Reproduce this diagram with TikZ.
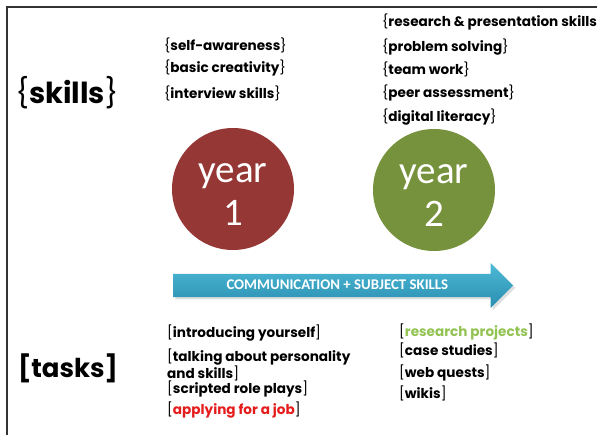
\documentclass[tikz,border=0pt]{standalone}
\usepackage{fontspec}
\newfontfamily\gothic{Poppins}
\newfontfamily\calibri{Carlito}
\usetikzlibrary{shapes.arrows,shadows}

\definecolor{yearred}{HTML}{953735}
\definecolor{yeargreen}{HTML}{76923C}
\definecolor{arrowtop}{HTML}{4DBAD6}
\definecolor{arrowbot}{HTML}{2A8DB0}
\definecolor{taskgreen}{HTML}{92C353}
\definecolor{taskred}{HTML}{E51C1C}

\newcommand{\brc}[1]{{\mdseries\{}#1{\mdseries\}}}
\newcommand{\brk}[1]{{\mdseries[}#1{\mdseries]}}
\newcommand{\yeartext}[1]{\raisebox{-6pt}[\height][\depth]{\begin{tabular}{@{}c@{}}year\\[-4pt]#1\end{tabular}}}

\tikzset{%
  every item/.style={
    anchor=west,
    inner sep=0pt,
    align=left,
    font=\gothic\bfseries\fontsize{13.6}{17}\selectfont
  },
  year circle/.style={
    circle,
    minimum size=122pt,
    inner sep=0pt,
    text=white,
    font=\calibri\fontsize{39}{47}\selectfont
  },
  big label/.style={
    inner sep=0pt,
    font=\gothic\bfseries\fontsize{29}{31}\selectfont
  },
  flow arrow/.style={
    single arrow,
    single arrow head extend=11pt,
    minimum height=340pt,
    inner ysep=0pt,
    text height=15.5pt,
    text depth=7.5pt,
    top color=arrowtop,
    bottom color=arrowbot,
    text=white,
    drop shadow={opacity=0.25},
    font=\calibri\bfseries\fontsize{14.8}{16}\selectfont
  },
  frame/.style={draw=black!80, line width=1.6pt},
}

\begin{document}
\begin{tikzpicture}[x=1pt, y=-1pt]
\useasboundingbox (0,0) rectangle (597,435);
\clip (0,0) rectangle (597,435);
\draw [frame] (7,436) -- (7,7) -- (598,7);

% years
\node [year circle, fill=yearred] (year-1) at (233,189) {\yeartext{1}};
\node [year circle, fill=yeargreen] (year-2) at (434,190) {\yeartext{2}};

\node [flow arrow, anchor=tail] (flow) at (173,285.5) {COMMUNICATION + SUBJECT SKILLS};

% skills
\node [big label] (skills) at (67,93) {\brc{skills}};

\foreach \t/\y [count=\i] in {self-awareness/45, basic creativity/68, interview skills/93}
  \node [every item] (skill-1-\i) at (164,\y) {\brc{\t}};

\node [every item] (skill-2-1) at (382,22) {{\mdseries\{}research \& presentation skills};
\foreach \t/\y [count=\i from 2] in {problem solving/47, team work/69, peer assessment/93, digital literacy/117}
  \node [every item] (skill-2-\i) at (382,\y) {\brc{\t}};

% tasks
\node [big label, font=\gothic\bfseries\fontsize{26}{28}\selectfont] (tasks) at (68,368) {[tasks]};

\node [every item] (task-1-1) at (167,333) {\brk{introducing yourself}};
\node [every item] (task-1-2) at (167,364.5) {{\mdseries[}talking about personality\\and skills{\mdseries]}};
\node [every item] (task-1-3) at (167,389) {\brk{scripted role plays}};
\node [every item] (task-1-4) at (167,410) {\brk{\textcolor{taskred}{applying for a job}}};

\node [every item] (task-2-1) at (399,332) {\brk{\textcolor{taskgreen}{research projects}}};
\foreach \t/\y [count=\i from 2] in {case studies/350, web quests/373, wikis/393}
  \node [every item] (task-2-\i) at (399,\y) {\brk{\t}};

\end{tikzpicture}
\end{document}
